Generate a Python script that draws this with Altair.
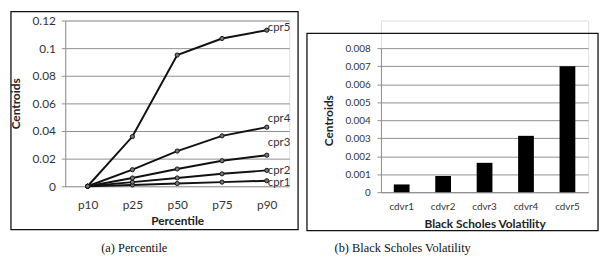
import altair as alt
import pandas as pd

# ---- data ----
percentiles = ["p10", "p25", "p50", "p75", "p90"]
series_names = ["cpr1", "cpr2", "cpr3", "cpr4", "cpr5"]
cpr1 = [0.0, 0.001, 0.002, 0.003, 0.004]
cpr2 = [0.0, 0.003, 0.006, 0.009, 0.0115]
cpr3 = [0.0, 0.006, 0.0125, 0.0185, 0.0225]
cpr4 = [0.0, 0.012, 0.0255, 0.0365, 0.0428]
cpr5 = [0.0, 0.036, 0.095, 0.107, 0.113]
label_y = [0.0025, 0.0112, 0.031, 0.0485, 0.1145]

volatility = ["cdvr1", "cdvr2", "cdvr3", "cdvr4", "cdvr5"]
bs_centroids = [0.00043, 0.0009, 0.00163, 0.00313, 0.007]

left_ticks = [0, 0.02, 0.04, 0.06, 0.08, 0.1, 0.12]
right_ticks = [0, 0.001, 0.002, 0.003, 0.004, 0.005, 0.006, 0.007, 0.008]

captions = ["(a) Percentile", "(b) Black Scholes Volatility"]

rows = []
for name, vals in zip(series_names, [cpr1, cpr2, cpr3, cpr4, cpr5]):
    for p, v in zip(percentiles, vals):
        rows.append({"series": name, "percentile": p, "value": v})
line_df = pd.DataFrame(rows)
lab_df = pd.DataFrame({"series": series_names, "percentile": ["p90"] * 5, "value": label_y})
bar_df = pd.DataFrame({"vol": volatility, "value": bs_centroids})

FONT = "Lato"
SERIF = "Liberation Serif"
GRID = "#8f8f8f"
one = alt.Data(values=[{"a": 1}])

# ---- left panel ----
LW, LH = 227, 168
xl = alt.X("percentile:N", sort=percentiles,
           scale=alt.Scale(type="point", padding=0.5),
           axis=alt.Axis(title="Percentile", domain=False, ticks=False, grid=False,
                         labelAngle=0, labelFont=FONT, labelFontSize=12, labelColor="#333",
                         labelPadding=14, titleFont=FONT, titleFontSize=12, titleFontWeight="bold",
                         titleColor="#222", titlePadding=5))
yl = alt.Y("value:Q", scale=alt.Scale(domain=[0, 0.12], nice=False),
           axis=alt.Axis(title="Centroids", values=left_ticks, labelExpr="'' + datum.value",
                         labelOverlap=False, grid=True, tickCount=7,
                         gridColor=GRID, gridWidth=1, domainColor=GRID, tickColor=GRID,
                         tickSize=4, labelFont=FONT, labelFontSize=12, labelColor="#333",
                         labelPadding=6, titleFont=FONT, titleFontSize=12,
                         titleFontWeight="bold", titleColor="#222", titlePadding=10))

lines = alt.Chart(line_df).mark_line(color="#111", strokeWidth=2).encode(
    x=xl, y=yl, detail="series:N")
pts = alt.Chart(line_df).mark_point(shape="circle", filled=True, fill="#777",
                                     stroke="#111", strokeWidth=1, size=18, opacity=1).encode(
    x=xl, y=yl, detail="series:N")
labs = alt.Chart(lab_df).mark_text(align="left", baseline="middle", dx=1, font=FONT,
                                   fontSize=11.5, color="#333").encode(
    x=xl, y=yl, text="series:N")
frame_l = alt.Chart(one).mark_rect(filled=False, stroke="#111", strokeWidth=1.3).encode(
    x=alt.value(-55), x2=alt.value(236), y=alt.value(-9), y2=alt.value(212))
cap_l = alt.Chart(one).mark_text(font=SERIF, fontSize=12.5, color="#111",
                                 align="center", baseline="middle").encode(
    x=alt.value(70), y=alt.value(231), text=alt.value(captions[0]))

left = alt.layer(frame_l, lines, pts, labs, cap_l).properties(width=LW, height=LH)

# ---- right panel (plot group shares the left top; data range placed lower) ----
RW, RH = 210, 174
xr = alt.X("vol:N", sort=volatility, scale=alt.Scale(paddingInner=0.62, paddingOuter=0.31),
           axis=alt.Axis(title="Black Scholes Volatility", labelAngle=0, domainColor=GRID,
                         ticks=False, labelFont=FONT, labelFontSize=10, labelColor="#333",
                         labelPadding=10, titleFont=FONT, titleFontSize=12,
                         titleFontWeight="bold", titleColor="#222", titlePadding=7))
yr = alt.Y("value:Q", scale=alt.Scale(domain=[0, 0.008], nice=False, range=[174, 28]),
           axis=alt.Axis(title="Centroids", values=right_ticks, labelOverlap=False,
                         labelExpr="datum.value == 0 ? '0' : format(datum.value, '.3f')",
                         grid=True, gridColor=GRID, gridWidth=1, domainColor=GRID,
                         tickColor=GRID, tickSize=4, labelFont=FONT, labelFontSize=10,
                         labelColor="#333", labelPadding=7, titleFont=FONT, titleFontSize=12,
                         titleFontWeight="bold", titleColor="#222", titlePadding=10))
bars = alt.Chart(bar_df).mark_bar(color="#000").encode(x=xr, y=yr)
frame_r = alt.Chart(one).mark_rect(filled=False, stroke="#111", strokeWidth=1.3).encode(
    x=alt.value(-75), x2=alt.value(220), y=alt.value(13), y2=alt.value(213))
cap_r = alt.Chart(one).mark_text(font=SERIF, fontSize=12.5, color="#111",
                                 align="center", baseline="middle").encode(
    x=alt.value(22), y=alt.value(231), text=alt.value(captions[1]))

right = alt.layer(frame_r, bars, cap_r).properties(width=RW, height=RH)

chart = alt.hconcat(left, right, spacing=5).properties(padding=0).configure_view(
    stroke=None).configure(background="white")

chart.save("out.html", embed_options={"renderer": "svg", "actions": False})
